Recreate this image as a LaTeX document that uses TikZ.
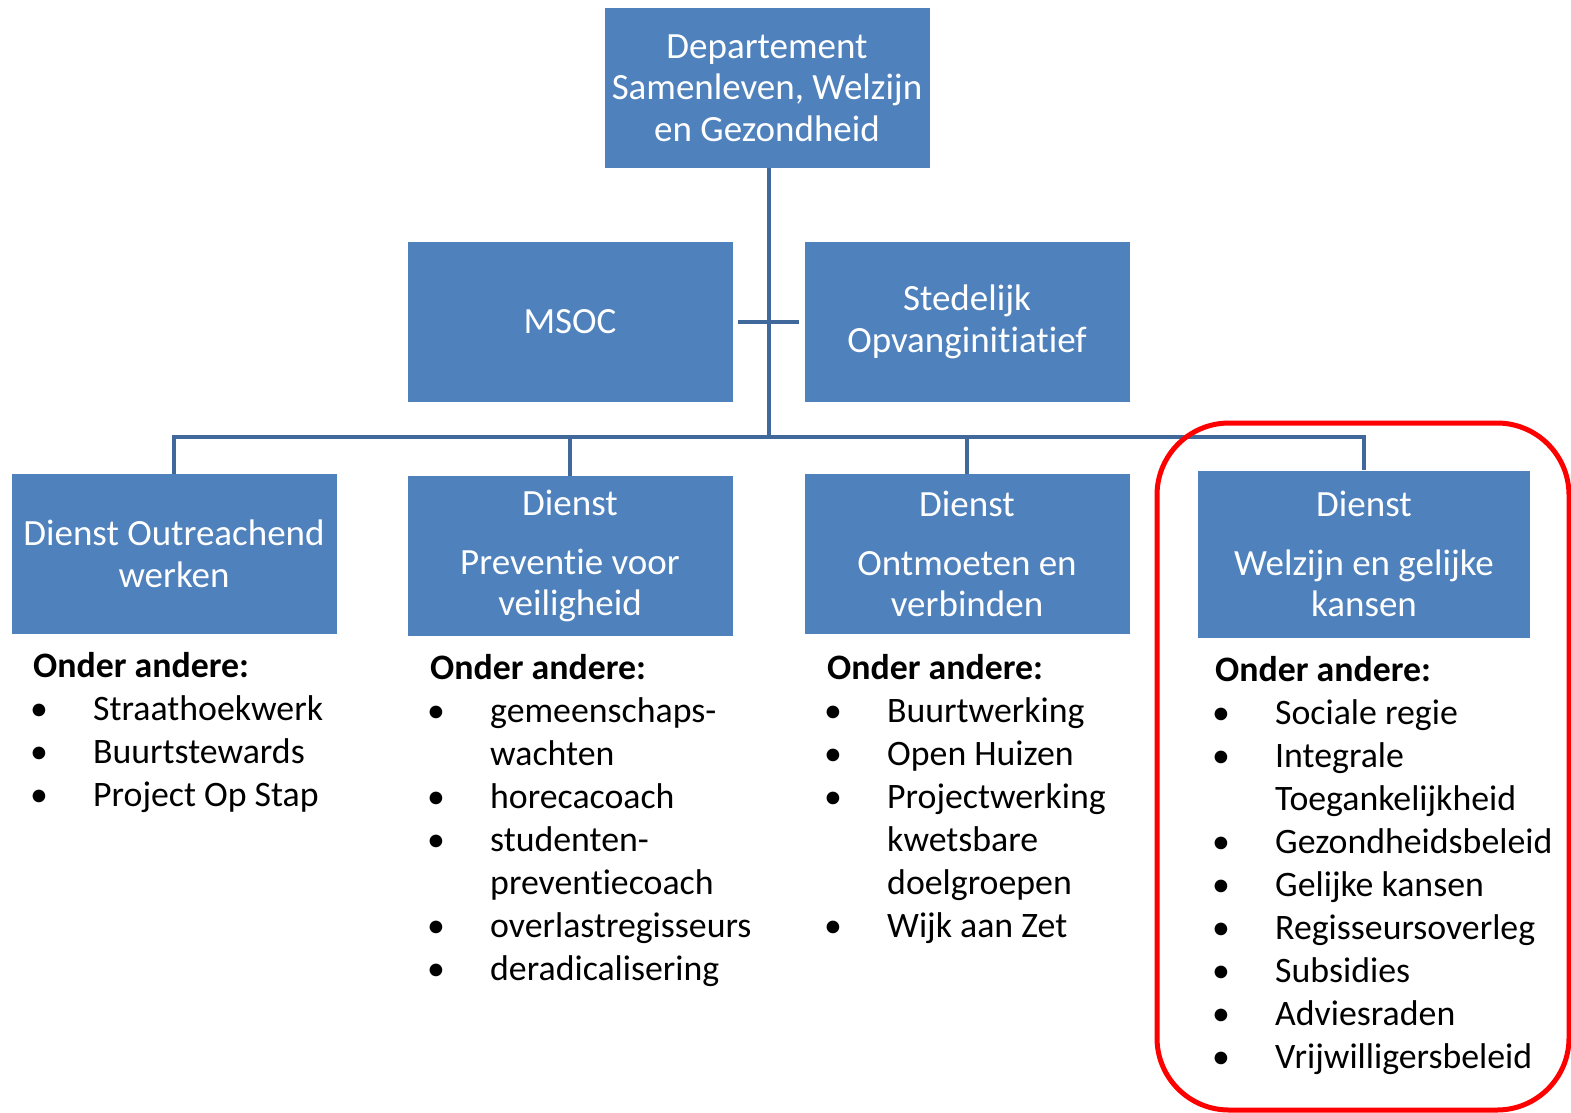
\documentclass[tikz,border=0pt]{standalone}
\usepackage{fontspec}
\setmainfont{Carlito}[RawFeature=-liga]
\usepackage{array}

\definecolor{unitblue}{HTML}{4F81BD}
\definecolor{linkblue}{HTML}{41689A}
\definecolor{markred}{HTML}{FF0000}

\newcommand{\boxfont}{\fontsize{37}{41.5}\selectfont}
\newcommand{\listfont}{\fontsize{35.8}{43}\selectfont}
% list body: header, then bullet rows
\newcommand{\taken}[1]{\listfont
  \begin{tabular}[t]{@{\hspace{-3pt}}p{63pt}@{}l@{}}
    \multicolumn{2}{@{}l@{}}{\textbf{Onder andere:}}\\
    #1
  \end{tabular}}

\begin{document}
\begin{tikzpicture}[x=1pt, y=-1pt,
  unit/.style={fill=unitblue, text=white, font=\boxfont, align=center,
    minimum width=325pt, minimum height=160pt, inner sep=0pt},
  link/.style={draw=linkblue, line width=4pt},
  list/.style={anchor=base west, inner sep=0pt}]
  \useasboundingbox (0,0) rectangle (1571,1112);

  \node[unit] (dep)    at (767,88)   {Departement\\Samenleven, Welzijn\\en Gezondheid};
  \node[unit] (msoc)   at (570,322)  {MSOC};
  \node[unit] (opvang) at (967,322)  {Stedelijk\\Opvanginitiatief};

  \node[unit] (outr)   at (174,554)  {Dienst Outreachend\\werken};
  \node[unit] (prev)   at (570,556)  {Dienst\\[17pt]Preventie voor\\veiligheid};
  \node[unit] (ontm)   at (967,554)  {Dienst\\[17pt]Ontmoeten en\\verbinden};
  \node[unit, minimum width=332pt, minimum height=167pt]
              (welz)   at (1364,554) {Dienst\\[17pt]Welzijn en gelijke\\kansen};

  \coordinate (bus) at (769,437);

  \path[link]
    (dep.south -| bus) -- (bus)
    (outr.north) |- (bus) -| (welz.north)
    (prev.north) -- (prev.north |- bus)
    (ontm.north) -- (ontm.north |- bus);
  \draw[link, shorten <=5pt, shorten >=5pt] (msoc.east) -- (opvang.west);

  \node[list] (lijst1) at (33,677) {\taken{
    \textbullet & Straathoekwerk\\
    \textbullet & Buurtstewards\\
    \textbullet & Project Op Stap\\}};
  \node[list] (lijst2) at (430,679) {\taken{
    \textbullet & gemeenschaps-\\
                & wachten\\
    \textbullet & horecacoach\\
    \textbullet & studenten-\\
                & preventiecoach\\
    \textbullet & overlastregisseurs\\
    \textbullet & deradicalisering\\}};
  \node[list] (lijst3) at (827,679) {\taken{
    \textbullet & Buurtwerking\\
    \textbullet & Open Huizen\\
    \textbullet & Projectwerking\\
                & kwetsbare\\
                & doelgroepen\\
    \textbullet & Wijk aan Zet\\}};
  \node[list] (lijst4) at (1215,681) {\taken{
    \textbullet & Sociale regie\\
    \textbullet & Integrale\\
                & Toegankelijkheid\\
    \textbullet & Gezondheidsbeleid\\
    \textbullet & Gelijke kansen\\
    \textbullet & Regisseursoverleg\\
    \textbullet & Subsidies\\
    \textbullet & Adviesraden\\
    \textbullet & Vrijwilligersbeleid\\}};

  % highlight round the last service
  \draw[markred, line width=5pt, rounded corners=72pt]
    (1157,423) rectangle (1569,1110);
\end{tikzpicture}
\end{document}
